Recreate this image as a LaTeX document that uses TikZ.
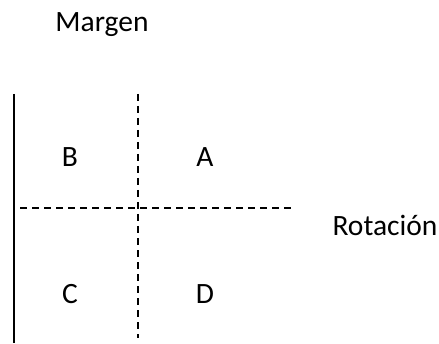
\documentclass[tikz,border=0pt]{standalone}
\usepackage{fontspec}
\setmainfont{Carlito}
\begin{document}
\begin{tikzpicture}[x=1pt,y=1pt,
  lbl/.style={font=\fontsize{29.5}{32}\selectfont, anchor=base, inner sep=0pt},
  axis/.style={line width=1.9pt},
  guide/.style={line width=1.9pt, dash pattern=on 7pt off 5pt}]
  \useasboundingbox (0,0) rectangle (439,343);
  % named end points of the lines
  \coordinate (mtop) at (14,249);
  \coordinate (mbot) at (14,0);
  \coordinate (vtop) at (138,249);
  \coordinate (vbot) at (138,5);
  \coordinate (hleft) at (20,135);
  \coordinate (hright) at (295,135);
  % margin line and dashed cross
  \draw[axis] (mtop) -- (mbot);
  \draw[guide] (vtop) -- (vbot);
  \draw[guide] (hleft) -- (hright);
  % labels
  \node[lbl] (margen) at (102,311) {Margen};
  \node[lbl] (rot) at (385,107) {Rotación};
  \node[lbl] (b) at (70,176) {B};
  \node[lbl] (a) at (205,176) {A};
  \node[lbl] (c) at (70,40) {C};
  \node[lbl] (d) at (205,40) {D};
\end{tikzpicture}
\end{document}
